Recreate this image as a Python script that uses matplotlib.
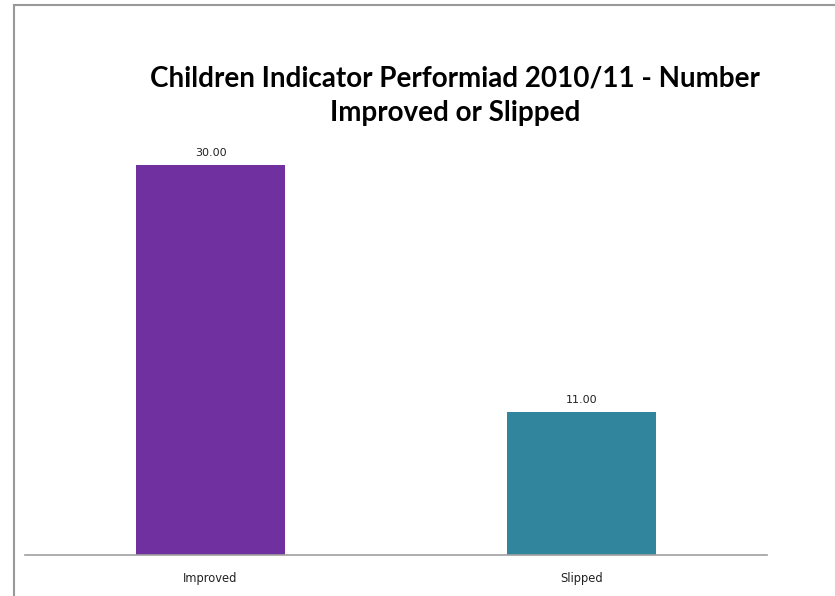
import matplotlib.pyplot as plt
from matplotlib.lines import Line2D

categories = ['Improved', 'Slipped']
values = [30.00, 11.00]
colors = ['#7030A0', '#31859C']

W, H = 835, 596
fig = plt.figure(figsize=(W / 100, H / 100), dpi=100)

# chart area border (only left and top edges show)
fig.add_artist(Line2D([14 / W, 14 / W], [0, 1 - 5 / H], color='#999999', lw=1.5))
fig.add_artist(Line2D([14 / W, 1], [1 - 5 / H, 1 - 5 / H], color='#999999', lw=1.5))

ax = fig.add_axes([25 / W, 41 / H, 742 / W, 455 / H])
bars = ax.bar(range(len(categories)), values, width=0.4, color=colors)
ax.set_xlim(-0.5, len(categories) - 0.5)
ax.set_ylim(0, 35)

for rect, v in zip(bars, values):
    ax.annotate(f'{v:.2f}', (rect.get_x() + rect.get_width() / 2, v),
                xytext=(0, 5), textcoords='offset points',
                ha='center', va='bottom', fontsize=8, family='DejaVu Sans',
                color='#222222')

ax.set_xticks(range(len(categories)))
ax.set_xticklabels(categories, fontsize=8.3, family='DejaVu Sans', color='#222222')
ax.tick_params(axis='x', length=0, pad=12)
ax.set_yticks([])
for side in ['top', 'right', 'left']:
    ax.spines[side].set_visible(False)
ax.spines['bottom'].set_color('#A0A0A0')
ax.spines['bottom'].set_linewidth(1.2)

fig.text(455 / W, 1 - 96 / H, 'Children Indicator Performiad 2010/11 - Number\nImproved or Slipped',
         ha='center', va='center', fontsize=20, fontweight='bold', family='Lato',
         linespacing=1.42)

plt.savefig('out.png', dpi=100)
plt.close()
